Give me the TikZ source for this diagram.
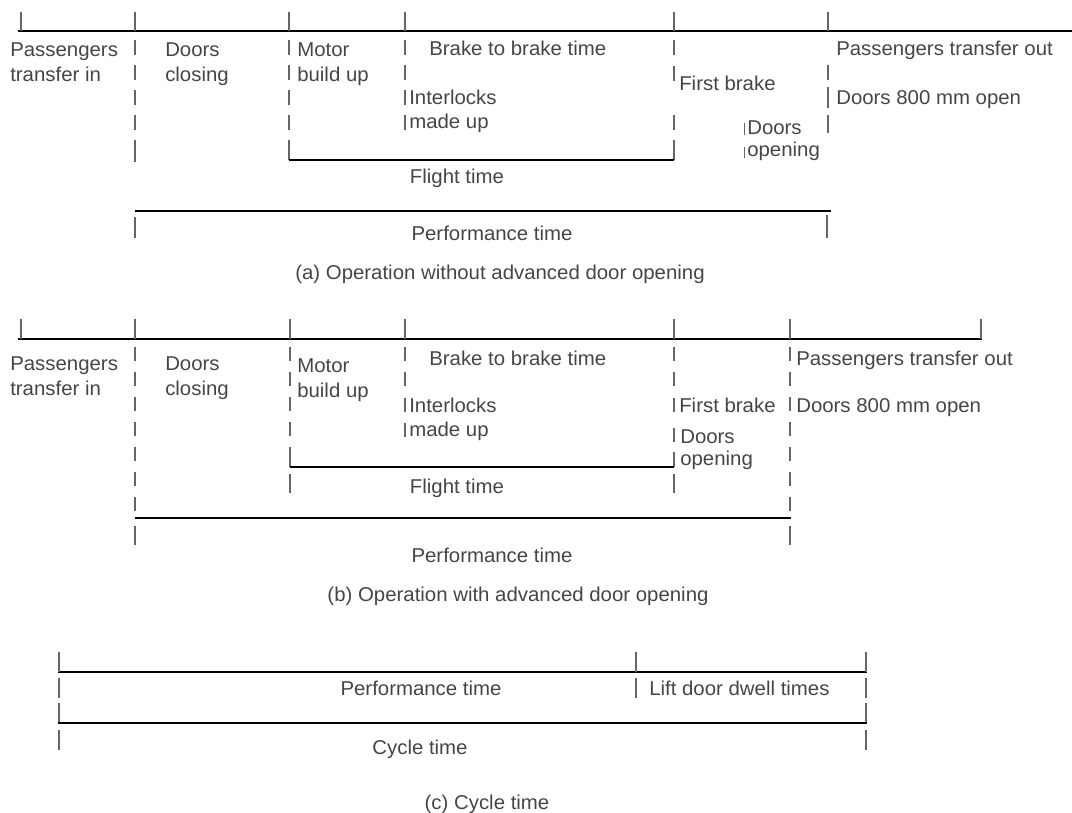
\documentclass[tikz,border=0pt]{standalone}
\usepackage{fontspec}
\setmainfont[FakeStretch=1.02]{Liberation Sans}
\definecolor{txt}{gray}{0.27}
\definecolor{tk}{gray}{0.4}
\begin{document}
\begin{tikzpicture}[x=0.75pt,y=-0.75pt,
  lbl/.style={inner sep=0pt,anchor=base west,text=txt,font=\fontsize{15}{18}\selectfont},
  clbl/.style={lbl,anchor=base},
  mainline/.style={draw=black,line width=1.6pt},
  tick/.style={draw=tk,line width=0.8pt},
  thin tick/.style={draw=tk,line width=0.5pt}]
\useasboundingbox (0,0) rectangle (1072,813);

% ===================== (a) =====================
\draw[mainline] (18,31) -- (1072,31);
\foreach \x in {21,135,289,405,674,828} \draw[tick] (\x,12) -- (\x,31);
\foreach \y in {40,65,90,115} \draw[tick] (135,\y) -- ++(0,15);
\draw[tick] (135,140) -- (135,162);
\foreach \y in {40,65,90,115} \draw[tick] (289,\y) -- ++(0,15);
\draw[tick] (289,140) -- (289,160);
\foreach \y in {40,65,90,115} \draw[tick] (405,\y) -- ++(0,15);
\foreach \y in {40,66,115} \draw[tick] (674,\y) -- ++(0,15);
\draw[tick] (674,140) -- (674,160);
\draw[tick] (828,65) -- (828,80);
\draw[tick] (828,87) -- (828,108);
\draw[tick] (828,115) -- (828,133);
\draw[thin tick] (744,123) -- (744,135);
\draw[thin tick] (744,147) -- (744,158);
\draw[mainline] (289,160) -- (674,160);
\draw[mainline] (135,211) -- (831,211);
\draw[tick] (135,217) -- (135,238);
\draw[tick] (827,215) -- (827,238);

\node[lbl] (a1) at (10,57) {Passengers};
\node[lbl] (a2) at (10,82) {transfer in};
\node[lbl] (a3) at (165,57) {Doors};
\node[lbl] (a4) at (165,82) {closing};
\node[lbl] (a5) at (297,57) {Motor};
\node[lbl] (a6) at (297,82) {build up};
\node[lbl] (a7) at (429,56) {Brake to brake time};
\node[lbl] (a8) at (409,105) {Interlocks};
\node[lbl] (a9) at (409,129) {made up};
\node[lbl] (a10) at (679,91) {First brake};
\node[lbl] (a11) at (747,135) {Doors};
\node[lbl] (a12) at (747,157) {opening};
\node[lbl] (a13) at (836,56) {Passengers transfer out};
\node[lbl] (a14) at (836,105) {Doors 800 mm open};
\node[clbl] (a15) at (457,184) {Flight time};
\node[clbl] (a16) at (492,241) {Performance time};
\node[clbl] (a17) at (500,280) {(a) Operation without advanced door opening};

% ===================== (b) =====================
\draw[mainline] (18,339) -- (982,339);
\foreach \x in {21,135,290,405,674,790,981} \draw[tick] (\x,319) -- (\x,339);
\foreach \y in {347,372,397,422,447,472,497} \draw[tick] (135,\y) -- ++(0,14);
\foreach \y in {347,372,397,422} \draw[tick] (290,\y) -- ++(0,14);
\draw[tick] (290,447) -- (290,467);
\draw[tick] (290,474) -- (290,493);
\foreach \y in {347,372,398,423} \draw[tick] (405,\y) -- ++(0,14);
\foreach \y in {347,372,398,428} \draw[tick] (674,\y) -- ++(0,14);
\draw[tick] (674,452) -- (674,467);
\draw[tick] (674,474) -- (674,493);
\foreach \y in {347,372,397,422,447,472,497} \draw[tick] (790,\y) -- ++(0,14);
\draw[mainline] (290,467) -- (674,467);
\draw[mainline] (135,518) -- (791,518);
\draw[tick] (135,526) -- (135,545);
\draw[tick] (790,526) -- (790,545);

\node[lbl] (b1) at (10,370) {Passengers};
\node[lbl] (b2) at (10,395) {transfer in};
\node[lbl] (b3) at (165,370) {Doors};
\node[lbl] (b4) at (165,395) {closing};
\node[lbl] (b5) at (297,373) {Motor};
\node[lbl] (b6) at (297,397) {build up};
\node[lbl] (b7) at (429,365) {Brake to brake time};
\node[lbl] (b8) at (409,412) {Interlocks};
\node[lbl] (b9) at (409,436) {made up};
\node[lbl] (b10) at (679,412) {First brake};
\node[lbl] (b11) at (680,443) {Doors};
\node[lbl] (b12) at (680,465) {opening};
\node[lbl] (b13) at (796,365) {Passengers transfer out};
\node[lbl] (b14) at (796,412) {Doors 800 mm open};
\node[clbl] (b15) at (457,493) {Flight time};
\node[clbl] (b16) at (492,562) {Performance time};
\node[clbl] (b17) at (518,601) {(b) Operation with advanced door opening};

% ===================== (c) =====================
\draw[mainline] (58,672) -- (867,672);
\foreach \x in {59,636,866} \draw[tick] (\x,652) -- (\x,672);
\foreach \x in {59,636,866} \draw[tick] (\x,678) -- (\x,698);
\draw[tick] (866,703) -- (866,722);
\draw[tick] (59,703) -- (59,722);
\draw[mainline] (58,723) -- (867,723);
\draw[tick] (59,730) -- (59,750);
\draw[tick] (866,730) -- (866,750);

\node[clbl] (c1) at (421,695) {Performance time};
\node[lbl] (c2) at (649,695) {Lift door dwell times};
\node[clbl] (c3) at (420,754) {Cycle time};
\node[clbl] (c4) at (487,809) {(c) Cycle time};
\end{tikzpicture}
\end{document}
